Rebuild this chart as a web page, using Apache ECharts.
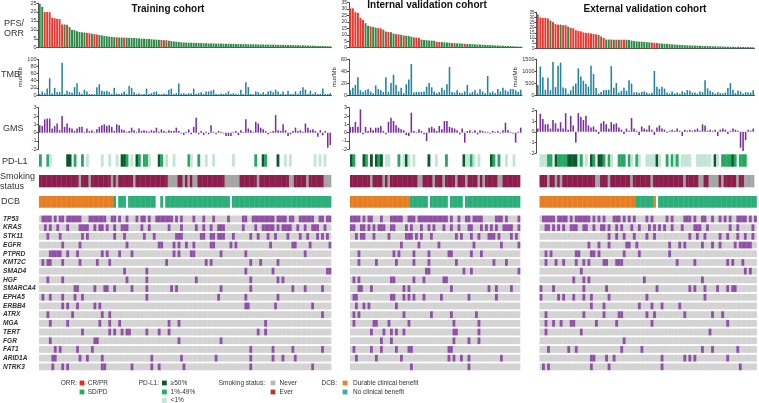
<!DOCTYPE html>
<html><head><meta charset="utf-8">
<script src="https://cdn.jsdelivr.net/npm/echarts@6/dist/echarts.min.js"></script>
<style>html,body{margin:0;padding:0;background:#fff}#c{width:759px;height:403px}</style>
</head><body><div id="c"></div>
<script>
// ---------------- DATA ----------------
const genes = ['TP53','KRAS','STK11','EGFR','PTPRD','KMT2C','SMAD4','HGF','SMARCA4','EPHA5','ERBB4','ATRX','MGA','TERT','FGR','FAT1','ARID1A','NTRK3'];
const cohortTitles = ['Training cohort','Internal validation cohort','External validation cohort'];
const tmbUnit = 'mut/Mb';

// PFS (months), sorted descending
const trainPFS = [24.5,22.8,20,20,19.8,16.8,16.5,16.2,16,13,13,12.8,11.5,10,9.8,9.2,8.8,8.6,8.5,8.3,8.1,7.8,7.6,7.4,7.1,6.9,6.6,6.4,6.2,6.0,5.9,5.8,5.7,5.7,5.6,5.6,5.5,5.5,5.4,5.3,5.2,5.1,5.0,4.9,4.8,4.7,4.6,4.5,4.4,4.3,4.2,4.2,3.9,3.7,3.5,3.4,3.2,3.0,2.9,2.9,2.8,2.8,2.7,2.7,2.6,2.6,2.5,2.5,2.4,2.4,2.4,2.3,2.3,2.3,2.2,2.2,2.2,2.1,2.1,2.1,2.0,2.0,2.0,2.0,1.9,1.9,1.9,1.9,1.8,1.8,1.8,1.7,1.7,1.7,1.7,1.6,1.6,1.6,1.6,1.5,1.5,1.5,1.4,1.4,1.4,1.3,1.3,1.3,1.2,1.2,1.1,1.1,1.0,1.0,0.9,0.9,0.8,0.8];
const intPFS = [30.5,30.5,27.5,27,23,21.5,19,17,16.5,16,15.5,15.2,15,14,12.5,12.2,12,11,10.5,10.3,10,9.5,9.2,9,8.5,8,7.8,7.5,6.3,6,5.8,5.6,5.5,5.4,4.5,4.4,4.3,4.1,4.0,3.9,3.6,3.5,3.4,3.3,3.2,3.0,2.9,2.8,2.7,2.6,2.5,2.4,2.3,2.2,2.1,2.0,1.9,1.8,1.7,1.6,1.5,1.4,1.3,1.2,1.1,1.0,0.9,0.8];
const extPFS = [33,30,29.5,29.5,29,27,25.5,23.5,23,23,22.5,22.5,21,20,19.5,17.5,17,16.5,15.5,15,15,14.5,14,13.5,13,11.5,10,8.5,8.5,8.5,8.3,8.3,8.3,8.3,8.3,8.3,8.2,7.5,7,6.8,6.5,6.5,6.2,6,5.8,5.5,5.3,5.2,4.8,4.6,4.4,4.2,4.0,3.8,3.6,3.5,3.3,3.2,3.0,2.9,2.8,2.7,2.6,2.5,2.4,2.3,2.2,2.1,2.0,2.0,1.9,1.8,1.8,1.7,1.6,1.6,1.5,1.5,1.4,1.4,1.3,1.3,1.2,1.2,1.1,1.0];

// ORR: patients with CR/PR (all others SD/PD)
const trainCRPR = [2,3,4,5,6,7,8,9,11,19,20,22,23,31,34,49,51];
const intCRPR = [0,1,2,3,4,5,8,11,12,14,15,18,19,21,25,26,27,34,35,40,45];
const extCRPR = [0,1,2,3,4,6,7,8,10,11,13,14,15,16,17,18,19,20,21,22,23,25,26,29,31,33,34,45,46,47];

// TMB
const trainTMB = [3,10,5,18,47,4,20,8,8,90,3,12,8,6,22,33,8,3,15,10,3,3,2,22,30,12,10,12,8,3,20,4,3,5,10,3,25,20,8,3,5,2,3,18,3,5,8,10,3,2,4,3,15,18,3,5,32,4,5,3,5,4,18,3,5,8,3,10,10,12,15,3,2,4,3,5,10,3,5,3,2,15,3,36,22,3,2,10,8,3,8,3,10,12,8,15,10,3,10,2,12,3,3,10,3,12,22,15,3,12,3,8,3,3,18,3,3,5];
const intTMB = [8,12,17,30,8,5,8,10,6,3,16,10,8,5,30,5,20,34,17,6,12,3,18,26,52,4,5,5,5,6,14,20,13,6,3,5,12,8,18,47,5,4,8,4,3,6,17,3,5,8,3,10,6,3,32,4,6,3,10,6,12,8,6,10,10,8,5,9];
const extTMB = [420,1200,750,220,720,200,1390,330,1230,1360,320,280,50,200,370,480,1120,780,600,460,350,1230,880,290,60,130,200,210,220,1210,300,500,100,180,300,180,620,480,100,120,80,130,150,100,60,90,1010,350,260,350,270,100,60,150,70,100,60,160,100,210,180,100,100,60,150,120,620,280,180,120,60,120,80,60,100,290,500,210,80,190,150,60,120,110,100,200];

// GMS
const trainGMS = [0.9,0.8,1.6,1.7,1.7,0.5,0.8,1.1,0.3,2.0,0.7,1.1,0.6,0.5,0.2,0.5,0.7,0.7,0.1,0.5,0.2,0.3,0.1,0.4,0.7,0.9,1.0,0.8,0.9,0.7,0.2,1.0,0.9,0.4,0.3,0.1,0.2,0.6,0.3,0.1,0.5,0.2,0.3,0.2,0.1,0.3,0.2,0.6,0.1,0.4,0.2,0.1,0.3,0.2,0.2,0.6,0.2,-0.1,-0.3,0.1,0.4,-0.2,0.7,1.8,-0.2,0.2,-0.3,0.1,-0.2,0.9,0.1,-0.2,0.2,0.1,-0.1,-0.4,-0.4,-0.4,0.1,0.2,-0.3,0.3,0.1,1.6,0.5,0.3,0.1,1.3,1.1,0.6,0.4,0.2,-0.2,0.1,0.2,2.1,0.3,0.2,1.0,0.3,-0.4,-0.2,0.2,0.6,0.2,0.3,0.1,1.1,0.6,0.3,0.4,0.2,-0.5,0.3,-0.3,0.2,-1.8,-1.5];
const intGMS = [0.7,0.7,1.3,0.7,2.8,-0.2,0.7,0.2,0.6,0.3,0.6,0.6,0.8,0.2,-0.2,1.3,1.8,1.4,0.9,0.6,0.4,0.3,-0.3,-0.4,2.4,0.2,0.1,0.4,0.2,-0.2,-1.0,0.6,0.7,0.5,0.2,0.8,0.4,1.4,1.4,0.7,0.6,0.5,0.3,-0.2,0.5,-1.2,0.2,0.3,0.1,0.3,-0.2,0.3,0.2,0.1,0.1,-0.1,0.2,0.1,0.2,-0.1,0.3,1.2,0.3,0.1,-0.1,-1.2,0.1,0.6];
const extGMS = [0.3,1.7,1.2,0.7,0.7,0.3,1.1,0.8,0.3,0.9,0.3,1.75,0.2,1.5,0.6,-1.0,1.75,1.4,1.1,1.5,0.6,0.4,0.5,0.2,-0.2,0.8,1.0,0.7,0.3,0.9,0.7,0.8,0.4,0.2,-0.2,0.3,0.1,1.3,0.3,0.1,-0.3,0.5,0.3,0.2,0.6,0.2,-0.3,0.4,0.6,0.3,0.2,-0.1,0.1,0.2,0.1,0.3,0.1,-0.4,0.2,0.1,0.2,0.1,0.2,0.3,0.1,0.7,0.6,0.1,0.2,0.1,0.2,-0.4,0.2,0.3,0.2,-0.2,0.1,0.3,0.2,0.1,-1.5,-1.8,-0.8,0.2,0.1,0.3];

// PD-L1 (patient indices per category; others missing)
const trainPDL1High = [11,12,33,34,39,48,90,96];
const trainPDL1Mid = [0,3,14,17,35,40,42,43,49,60,64,87,91];
const trainPDL1Low = [4,19,25,28,31,37,44,51,54,61,67,70,78,99,101,111,113,115];
const intPDL1High = [0,5,8,10,12,22,31,45,56];
const intPDL1Mid = [1,6,11,19,38,48,57,59];
const intPDL1Low = [14,15,21,23,25,34,46,47,49,51,62,65];
const extPDL1High = [6,11,12,13,14,20,23,24,46,69,76];
const extPDL1Mid = [3,4,7,8,9,10,16,21,25,27,31,32,33,35,38,50,52,54,72,73,74,75,77,79,80,81];
const extPDL1Low = [0,1,2,15,18,28,36,39,42,43,44,45,47,53,56,57,58,59,62,63,64,65,66,67,70];

// Smoking: never-smokers (others ever), missing
const trainNever = [16,20,29,31,38,52,53,54,55,58,60,62,63,75,76,77,78,79,80,88,101,102,108,115,116,117];
const intNever = [8,13,15,27,28,33,37,42,46,51,53,59,60];
const extNever = [3,6,8,22,23,27,36,44,57,63,64,67,68,69,70,72,78,81,82,83,84];
const trainSmokeMissing = [];
const intSmokeMissing = [];
const extSmokeMissing = [85];

// DCB: durable clinical benefit indices, missing indices (others: no clinical benefit)
const trainDurable = [0,1,2,3,4,5,6,7,8,9,10,11,12,13,14,15,16,17,18,19,20,21,22,23,24,25,26,27,28,29];
const trainDCBMissing = [31,35,47,48,50,77];
const intDurable = [0,1,2,3,4,5,6,7,8,9,10,11,12,13,14,15,16,17,18,19,20,21,22,23];
const intDCBMissing = [31,39,45];
const extDurable = [0,1,2,3,4,5,6,7,8,9,10,11,12,13,14,15,16,17,18,19,20,21,22,23,24,25,26,27,28,29,30,31,32,33,34,35,36,37,45];
const extDCBMissing = [46];

// Gene mutations: patient indices with mutation
const trainMut = {
  TP53:[1,2,3,4,6,8,9,11,12,13,14,15,16,20,21,22,23,24,25,26,29,30,32,35,39,41,42,44,47,48,49,50,51,52,53,55,57,62,66,70,76,82,83,86,87,88,89,90,91,92,93,94,96,97,98,99,101,102,105,106,107,108,109,110,113,114,116,117],
  KRAS:[2,4,7,11,16,17,18,19,22,24,25,27,30,33,34,35,41,44,52,57,63,66,69,72,73,74,82,87,90,91,92,93,94,96,98,99,100,101,104,107,110,111,112,115],
  STK11:[3,8,17,19,30,34,42,46,55,56,57,65,66,69,70,72,73,74,78,85,88,92,95,100,105,108,112,114,116],
  EGFR:[9,16,35,48,49,54,56,59,62,69,70,77,79,93,102,103,109,117],
  PTPRD:[4,5,6,7,8,11,15,25,27,32,37,54,56,61,62,73,83,107],
  KMT2C:[1,3,4,9,16,23,28,51,67,69,85,89,96],
  SMAD4:[34,43,83,94,116,117],
  HGF:[3,9,35,43,63,85,96,98],
  SMARCA4:[14,15,22,26,27,30,37,43,53,55,73,85,102,107,114],
  EPHA5:[1,4,9,14,17,43,72,83,96],
  ERBB4:[9,11,15,22,24,83,84,95,110],
  ATRX:[3,13,25,28,114],
  MGA:[4,11,24,28,32,52,56,91],
  TERT:[17,28,30,33,35,36,43,48,52,88,91],
  FGR:[4,22,23,56,73],
  FAT1:[6,8,15,21,85,94,102,114],
  ARID1A:[5,6,16,19,25,45,57,71,85,94,98,103],
  NTRK3:[5,9,11,25,26,37,45,48,58,85,110]
};
const intMut = {
  TP53:[0,1,2,3,5,7,8,12,16,17,18,19,20,23,24,25,27,28,29,30,31,32,33,34,35,36,37,38,40,43,46,47,49,50,51,52,58,59,60,62,67],
  KRAS:[0,1,4,5,7,9,11,12,13,16,17,22,24,28,31,33,37,40,43,47,48,52,54,56,58,61,62,63,64,67],
  STK11:[2,4,5,9,15,22,23,24,26,28,32,42,44,48,51,55,56,57,59,64,66],
  EGFR:[20,27,35,49,60,67],
  PTPRD:[3,17,19,25,31,39,40,48,52],
  KMT2C:[3,10,18,25,31,42,57,62],
  SMAD4:[30,31,45,48,67],
  HGF:[1,3,16,17,25,29,37,38],
  SMARCA4:[3,4,8,21,23,40,55,58,64],
  EPHA5:[1,2,16,17,21,23,25,29,36,47,58],
  ERBB4:[2,5,7,18],
  ATRX:[1,3,21,32,40,50],
  MGA:[1,9,10,15,23,41,51],
  TERT:[8,13,16,18,21,41,42,51],
  FGR:[12,16,41,47,51],
  FAT1:[1,8,12,18,23,24,39,40],
  ARID1A:[2,10,20,39,41,44,47,60],
  NTRK3:[24,47]
};
const extMut = {
  TP53:[1,2,3,4,5,7,8,9,10,12,14,15,16,17,18,19,21,23,25,29,30,31,33,35,37,42,44,50,52,57,58,59,61,64,65,68,71,73,75,78,79,80,81,83,85],
  KRAS:[2,3,5,7,9,12,13,14,17,18,21,24,25,27,30,32,36,39,43,45,47,49,52,56,61,62,63,66,75,78,84],
  STK11:[27,30,33,37,42,45,59,62,65,71,74,78,81,84],
  EGFR:[19,23,27,34,35,38,51,55,57,64,68,71,77,79,80,81,82,83],
  PTPRD:[2,4,14,15,20,21,23,33,39,51],
  KMT2C:[2,6,9,14,17,19,25,26,30,31,32,54,61,74,76,80],
  SMAD4:[16,81,83],
  HGF:[13,17,19,41,64],
  SMARCA4:[0,5,17,26,46,59,61,65,70,74,76,77],
  EPHA5:[0,7,9,13,17,20,27,42,65],
  ERBB4:[20,25,39,44,48,55],
  ATRX:[2,17,25,31,32,42,45,57,68,72],
  MGA:[2,5,8,12,13,22,30,44,74],
  TERT:[2,16,67],
  FGR:[33],
  FAT1:[3,11,14,32,40,64,68,78],
  ARID1A:[20,21,26,29,48,57,59,61,74],
  NTRK3:[1,3,20,27,48,79]
};

// Legend labels
const orrLabels = ['CR/PR','SD/PD'];
const pdl1Labels = ['\u226550%','1%-49%','<1%'];
const smokeLabels = ['Never','Ever'];
const dcbLabels = ['Durable clinical benefit','No clinical benefit'];

// ---------------- STYLE / LAYOUT ----------------
const FONT = 'Arial, "Liberation Sans", Helvetica, sans-serif';
const C = {
  red:'#e53a33', green:'#2e8a46', tmb:'#2484a0', gms:'#7a2f9c',
  pdHigh:'#0b5a2b', pdMid:'#27a862', pdLow:'#c2e6d6',
  ever:'#8c1d4c', never:'#a5a5a5', durable:'#e67e22', noBenefit:'#2cae78',
  geneBg:'#d3d3d3', geneMut:'#9150a8', axis:'#222', text:'#333'
};
const cohorts = [
  {pfs:trainPFS, crpr:trainCRPR, tmb:trainTMB, gms:trainGMS, pdH:trainPDL1High, pdM:trainPDL1Mid, pdL:trainPDL1Low, never:trainNever, smokeMiss:trainSmokeMissing, durable:trainDurable, dcbMiss:trainDCBMissing, mut:trainMut,
   L:{plotLeft:38.5, plotW:293, stripLeft:39, stripW:292, pfsTop:1.7, pfsH:46, pfsMax:25, pfsFs:5.5, tmbMax:100, tmbInt:20, gmsTop:107.7, gmsH:41.6, gmsMin:-2, gmsMax:3, unitGap:13, titleX:168, titleY:9, geneLabels:true}},
  {pfs:intPFS, crpr:intCRPR, tmb:intTMB, gms:intGMS, pdH:intPDL1High, pdM:intPDL1Mid, pdL:intPDL1Low, never:intNever, smokeMiss:intSmokeMissing, durable:intDurable, dcbMiss:intDCBMissing, mut:intMut,
   L:{plotLeft:349, plotW:173, stripLeft:350, stripW:170, pfsTop:1.7, pfsH:46, pfsMax:35, pfsFs:5, tmbMax:60, tmbInt:20, gmsTop:107.7, gmsH:41.6, gmsMin:-2, gmsMax:3, unitGap:10, titleX:427, titleY:5, geneLabels:false}},
  {pfs:extPFS, crpr:extCRPR, tmb:extTMB, gms:extGMS, pdH:extPDL1High, pdM:extPDL1Mid, pdL:extPDL1Low, never:extNever, smokeMiss:extSmokeMissing, durable:extDurable, dcbMiss:extDCBMissing, mut:extMut,
   L:{plotLeft:536.5, plotW:218, stripLeft:539.5, stripW:217, pfsTop:12.3, pfsH:36, pfsMax:35, pfsFs:4.5, tmbMax:1500, tmbInt:500, gmsTop:110.5, gmsH:42.5, gmsMin:-2, gmsMax:2, unitGap:16, titleX:645, titleY:9, geneLabels:false}}
];
const ROW = {tmbTop:59.3, tmbH:35.7, pdTop:154.3, pdH:12.4, smTop:175, smH:12.3, dcbTop:196, dcbH:11.7, geneTop:214.6, geneH:156.6};

// ---------------- BUILD ----------------
const option = {animation:false, textStyle:{fontFamily:FONT}, grid:[], xAxis:[], yAxis:[], series:[], graphic:[]};
function hiddenCat(gi, n, extra){
  return Object.assign({gridIndex:gi, type:'category', data:Array.from({length:n},(_,i)=>i), boundaryGap:true,
    axisLine:{show:false}, axisTick:{show:false}, axisLabel:{show:false}, splitLine:{show:false}}, extra||{});
}
function valAxis(gi, min, max, interval, fs, extra){
  return Object.assign({gridIndex:gi, type:'value', min:min, max:max, interval:interval,
    axisLine:{show:true, lineStyle:{color:C.axis, width:0.8}},
    axisTick:{show:true, length:2, lineStyle:{color:C.axis, width:0.8}},
    axisLabel:{fontSize:fs, margin:2, color:C.text, fontFamily:FONT, formatter:v=>String(v)}, splitLine:{show:false}}, extra||{});
}
function addGrid(left, top, width, height){
  option.grid.push({left:left, top:top, width:width, height:height});
  return option.grid.length-1;
}
function stripRender(params, api){
  const i = api.value(0);
  const top = api.coord([i, 1]);
  const bot = api.coord([i, 0]);
  const w = api.size([1, 0])[0];
  return {type:'rect', shape:{x:top[0]-w/2, y:top[1], width:w+0.35, height:bot[1]-top[1]}, style:{fill:api.visual('color')}};
}
function geneRender(params, api){
  const i = api.value(0), g = api.value(1);
  const c = api.coord([i, g]);
  const s = api.size([1, 1]);
  const h = s[1]*0.78;
  return {type:'rect', shape:{x:c[0]-s[0]/2, y:c[1]-h/2, width:s[0]+0.35, height:h}, style:{fill:api.visual('color')}};
}
function addStrip(co, top, h, colorOf){
  const L = co.L, n = co.pfs.length;
  const gi = addGrid(L.stripLeft, top, L.stripW, h);
  option.xAxis.push(hiddenCat(gi, n));
  option.yAxis.push({gridIndex:gi, type:'value', min:0, max:1, show:false});
  const data = [];
  for (let i=0;i<n;i++){ const col = colorOf(i); if (col) data.push({value:[i,1], itemStyle:{color:col}}); }
  option.series.push({type:'custom', xAxisIndex:gi, yAxisIndex:gi, renderItem:stripRender, data:data, silent:true});
}

cohorts.forEach((co, ci) => {
  const L = co.L, n = co.pfs.length;
  // PFS / ORR
  let gi = addGrid(L.plotLeft, L.pfsTop, L.plotW, L.pfsH);
  option.xAxis.push(hiddenCat(gi, n, {axisLine:{show:true, lineStyle:{color:C.axis, width:0.8}}}));
  option.yAxis.push(valAxis(gi, 0, L.pfsMax, 5, L.pfsFs));
  option.series.push({type:'bar', xAxisIndex:gi, yAxisIndex:gi, silent:true, barCategoryGap:'22%',
    data: co.pfs.map((v,i)=>({value:v, itemStyle:{color: co.crpr.indexOf(i)>=0 ? C.red : C.green}}))});
  // TMB
  gi = addGrid(L.plotLeft, ROW.tmbTop, L.plotW, ROW.tmbH);
  option.xAxis.push(hiddenCat(gi, n, {axisLine:{show:true, lineStyle:{color:C.axis, width:0.8}}}));
  option.yAxis.push(valAxis(gi, 0, L.tmbMax, L.tmbInt, 5.5, {name:tmbUnit, nameLocation:'middle', nameRotate:90, nameGap:L.unitGap, nameTextStyle:{fontSize:6, color:C.text, fontFamily:FONT}}));
  option.series.push({type:'bar', xAxisIndex:gi, yAxisIndex:gi, silent:true, barCategoryGap:'38%', itemStyle:{color:C.tmb}, data:co.tmb});
  // GMS
  gi = addGrid(L.plotLeft, L.gmsTop, L.plotW, L.gmsH);
  option.xAxis.push(hiddenCat(gi, n));
  option.yAxis.push(valAxis(gi, L.gmsMin, L.gmsMax, 1, 5.5));
  option.series.push({type:'bar', xAxisIndex:gi, yAxisIndex:gi, silent:true, barCategoryGap:'38%', itemStyle:{color:C.gms}, data:co.gms});
  // PD-L1
  addStrip(co, ROW.pdTop, ROW.pdH, i => co.pdH.indexOf(i)>=0 ? C.pdHigh : co.pdM.indexOf(i)>=0 ? C.pdMid : co.pdL.indexOf(i)>=0 ? C.pdLow : null);
  // Smoking
  addStrip(co, ROW.smTop, ROW.smH, i => co.smokeMiss.indexOf(i)>=0 ? null : co.never.indexOf(i)>=0 ? C.never : C.ever);
  // DCB
  addStrip(co, ROW.dcbTop, ROW.dcbH, i => co.dcbMiss.indexOf(i)>=0 ? null : co.durable.indexOf(i)>=0 ? C.durable : C.noBenefit);
  // Genes
  gi = addGrid(L.stripLeft, ROW.geneTop, L.stripW, ROW.geneH);
  option.xAxis.push(hiddenCat(gi, n));
  option.yAxis.push({gridIndex:gi, type:'category', data:genes, inverse:true,
    axisLine:{show:false}, axisTick:{show:false}, splitLine:{show:false},
    axisLabel:{show:L.geneLabels, interval:0, align:'left', margin:36, fontSize:6.6, fontStyle:'italic', fontWeight:'bold', color:C.text, fontFamily:FONT}});
  const bg = [], mu = [];
  genes.forEach((g, gIdx) => {
    for (let i=0;i<n;i++){
      if (co.mut[g].indexOf(i)>=0) mu.push([i, gIdx]); else bg.push([i, gIdx]);
    }
  });
  option.series.push({type:'custom', xAxisIndex:gi, yAxisIndex:gi, renderItem:geneRender, data:bg, itemStyle:{color:C.geneBg}, silent:true, z:2});
  option.series.push({type:'custom', xAxisIndex:gi, yAxisIndex:gi, renderItem:geneRender, data:mu, itemStyle:{color:C.geneMut}, silent:true, z:3});
  // title
  option.graphic.push({type:'text', x:L.titleX, y:L.titleY, z:10, style:{text:cohortTitles[ci], fontSize:10, fontWeight:'bold', fontFamily:FONT, fill:'#111', align:'center', verticalAlign:'middle', textAlign:'center', textVerticalAlign:'middle'}});
});

function txt(text, x, y, size, opts){
  return {type:'text', x:x, y:y, z:10, style:Object.assign({text:text, fontSize:size, fontFamily:FONT, fill:C.text, align:'left', verticalAlign:'middle', textAlign:'left', textVerticalAlign:'middle'}, opts||{})};
}
function sq(x, y, color){ return {type:'rect', z:10, shape:{x:x, y:y-2.4, width:4.8, height:4.8}, style:{fill:color}}; }

// row labels
option.graphic.push(txt('PFS/', 4, 23.3, 9), txt('ORR', 4, 33.7, 9), txt('TMB', 1, 74.5, 9), txt('GMS', 3, 129, 9),
  txt('PD-L1', 2, 161.5, 9), txt('Smoking', 0, 176.5, 9), txt('status', 0, 187, 9), txt('DCB', 1, 202, 9));

// legend
const ly = [383, 392, 400.5];
const rAlign = {align:'right', textAlign:'right'};
option.graphic.push(txt('ORR:', 77, ly[0], 6.5, rAlign));
[ '#ff1d1d', '#1fb24f' ].forEach((c,k)=>{ option.graphic.push(sq(79.6, ly[k], c), txt(orrLabels[k], 87.7, ly[k], 6.5)); });
option.graphic.push(txt('PD-L1:', 159, ly[0], 6.5, rAlign));
[ C.pdHigh, '#1fb35a', C.pdLow ].forEach((c,k)=>{ option.graphic.push(sq(162, ly[k], c), txt(pdl1Labels[k], 170.6, ly[k], 6.5)); });
option.graphic.push(txt('Smoking status:', 265, ly[0], 6.5, rAlign));
[ '#b8b8b8', '#b83a2d' ].forEach((c,k)=>{ option.graphic.push(sq(270.6, ly[k], c), txt(smokeLabels[k], 279.6, ly[k], 6.5)); });
option.graphic.push(txt('DCB:', 337, ly[0], 6.5, rAlign));
[ '#f08020', '#2fb591' ].forEach((c,k)=>{ option.graphic.push(sq(342.6, ly[k], c), txt(dcbLabels[k], 353, ly[k], 6.5)); });

const chart = echarts.init(document.getElementById('c'), null, {renderer:'canvas'});
chart.setOption(option);
</script></body></html>
